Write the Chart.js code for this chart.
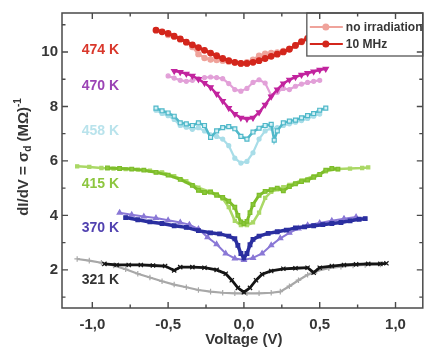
<!DOCTYPE html>
<html>
<head>
<meta charset="utf-8">
<script src="https://cdn.jsdelivr.net/npm/chart.js@4/dist/chart.umd.min.js"></script>
<style>
  html, body { margin: 0; padding: 0; background: #fff; }
</style>
</head>
<body>
<canvas id="chart" width="428" height="352"></canvas>
<script>
// dI/dV (MOhm^-1) against voltage (V)
// "10M" = under 10 MHz irradiation, "off" = no irradiation
const volt474_10M = [-0.58,-0.54,-0.50,-0.46,-0.42,-0.38,-0.34,-0.30,-0.26,-0.22,-0.18,-0.14,-0.10,-0.06,-0.02,0.02,0.06,0.10,0.14,0.18,0.22,0.26,0.30,0.34,0.38,0.42,0.46,0.50];
const sig474_10M  = [10.80,10.74,10.68,10.58,10.48,10.36,10.26,10.16,10.06,9.96,9.86,9.76,9.68,9.62,9.58,9.58,9.62,9.68,9.76,9.84,9.92,10.00,10.10,10.24,10.38,10.50,10.62,10.72];
const volt474_off = [-0.50,-0.46,-0.42,-0.38,-0.34,-0.30,-0.26,-0.22,-0.18,-0.14,-0.10,-0.06,-0.02,0.02,0.06,0.10,0.14,0.18,0.22,0.26,0.30,0.34,0.38];
const sig474_off  = [10.62,10.56,10.46,10.36,10.18,9.92,9.78,9.72,9.70,9.68,9.64,9.60,9.58,9.62,9.72,9.86,9.94,9.96,9.98,10.04,10.12,10.24,10.36];

const volt470_10M = [-0.46,-0.42,-0.38,-0.34,-0.30,-0.26,-0.22,-0.18,-0.14,-0.10,-0.06,-0.02,0.02,0.06,0.10,0.14,0.18,0.22,0.26,0.30,0.34,0.38,0.42,0.46,0.50,0.54];
const sig470_10M  = [9.30,9.26,9.20,9.12,9.00,8.86,8.70,8.46,8.20,7.94,7.72,7.58,7.54,7.58,7.78,8.06,8.36,8.62,8.84,8.98,9.08,9.16,9.22,9.28,9.34,9.38];
const volt470_off = [-0.50,-0.46,-0.42,-0.38,-0.34,-0.30,-0.26,-0.22,-0.18,-0.14,-0.10,-0.06,-0.02,0.02,0.06,0.10,0.14,0.18,0.22,0.26,0.30,0.34,0.38,0.42,0.46,0.50];
const sig470_off  = [9.12,9.04,8.96,8.92,8.96,9.02,9.06,9.08,9.06,9.02,8.84,8.62,8.56,8.66,8.88,8.98,8.86,8.40,8.52,8.66,8.62,8.74,8.82,8.88,8.92,8.96];

const volt458_10M = [-0.58,-0.54,-0.50,-0.46,-0.42,-0.38,-0.34,-0.30,-0.26,-0.22,-0.18,-0.14,-0.10,-0.06,-0.02,0.02,0.06,0.10,0.14,0.18,0.20,0.22,0.26,0.30,0.34,0.38,0.42,0.46,0.50,0.54];
const sig458_10M  = [7.94,7.84,7.76,7.64,7.40,7.36,7.30,7.40,7.30,6.86,7.10,7.22,7.26,7.18,6.90,6.80,7.06,7.20,7.30,7.34,6.76,7.10,7.40,7.46,7.50,7.58,7.66,7.74,7.86,7.94];
const volt458_off = [-0.58,-0.54,-0.50,-0.46,-0.42,-0.38,-0.34,-0.30,-0.26,-0.22,-0.18,-0.14,-0.10,-0.06,-0.02,0.02,0.06,0.10,0.14,0.18,0.22,0.26,0.30,0.34,0.38,0.42,0.46,0.50];
const sig458_off  = [7.86,7.74,7.66,7.52,7.30,7.24,7.16,7.22,7.10,6.96,6.90,6.80,6.56,6.10,5.92,5.98,6.30,6.80,7.10,7.20,7.22,7.30,7.36,7.42,7.48,7.56,7.64,7.72];

const volt415_10M = [-0.90,-0.82,-0.74,-0.66,-0.58,-0.50,-0.42,-0.34,-0.30,-0.26,-0.22,-0.18,-0.14,-0.10,-0.06,-0.04,-0.02,0.00,0.02,0.04,0.06,0.10,0.14,0.18,0.22,0.26,0.30,0.34,0.38,0.42,0.46,0.50,0.54,0.58,0.62];
const sig415_10M  = [5.74,5.72,5.70,5.66,5.58,5.48,5.32,5.10,4.92,4.84,4.86,4.74,4.66,4.52,4.30,4.00,3.76,3.70,3.78,4.10,4.40,4.74,4.88,4.94,5.00,4.90,5.06,5.16,5.24,5.30,5.40,5.50,5.66,5.72,5.70];
const volt415_off = [-1.10,-1.02,-0.94,-0.86,-0.78,-0.70,-0.62,-0.54,-0.46,-0.38,-0.30,-0.22,-0.18,-0.14,-0.10,-0.06,-0.02,0.02,0.06,0.10,0.14,0.18,0.22,0.26,0.30,0.38,0.46,0.54,0.62,0.70,0.78,0.82];
const sig415_off  = [5.80,5.78,5.74,5.72,5.70,5.68,5.64,5.58,5.44,5.26,5.02,4.86,4.78,4.62,4.30,3.80,3.64,3.64,3.74,4.10,4.64,4.86,4.96,5.04,5.12,5.28,5.44,5.62,5.70,5.72,5.74,5.76];

const volt370_10M = [-0.78,-0.70,-0.62,-0.54,-0.46,-0.38,-0.30,-0.22,-0.16,-0.10,-0.06,-0.04,-0.02,0.00,0.02,0.04,0.06,0.10,0.16,0.22,0.28,0.34,0.40,0.46,0.52,0.58,0.64,0.70,0.76,0.80];
const sig370_10M  = [3.92,3.84,3.76,3.70,3.62,3.56,3.44,3.36,3.32,3.24,3.14,2.90,2.60,2.44,2.60,2.92,3.12,3.24,3.34,3.40,3.46,3.54,3.58,3.62,3.66,3.70,3.74,3.80,3.86,3.88];
const volt370_off = [-0.82,-0.74,-0.66,-0.58,-0.50,-0.42,-0.36,-0.30,-0.24,-0.18,-0.12,-0.06,0.00,0.06,0.12,0.18,0.24,0.30,0.36,0.42,0.50,0.58,0.66,0.74];
const sig370_off  = [4.10,4.02,3.96,3.90,3.82,3.74,3.66,3.50,3.20,2.94,2.60,2.42,2.36,2.44,2.60,2.90,3.16,3.36,3.52,3.64,3.72,3.80,3.88,3.94];

const volt321_10M = [-0.92,-0.84,-0.76,-0.68,-0.60,-0.52,-0.46,-0.42,-0.34,-0.26,-0.18,-0.12,-0.08,-0.04,0.00,0.04,0.08,0.12,0.18,0.26,0.34,0.42,0.46,0.50,0.58,0.66,0.74,0.82,0.90,0.94];
const sig321_10M  = [2.22,2.18,2.18,2.18,2.16,2.14,1.98,2.10,2.10,2.08,2.00,1.86,1.62,1.34,1.18,1.34,1.62,1.84,1.96,2.04,2.06,2.08,1.90,2.08,2.14,2.18,2.20,2.22,2.22,2.24];
const volt321_off = [-1.10,-1.02,-0.94,-0.86,-0.78,-0.70,-0.62,-0.54,-0.46,-0.38,-0.30,-0.22,-0.14,-0.06,0.02,0.10,0.18,0.24,0.30,0.36,0.42,0.48,0.56,0.64,0.72,0.80,0.90];
const sig321_off  = [2.40,2.34,2.26,2.16,2.02,1.86,1.72,1.58,1.46,1.36,1.26,1.20,1.16,1.14,1.14,1.14,1.16,1.20,1.40,1.62,1.82,1.96,2.06,2.12,2.16,2.18,2.20];

// axes
const xTickValues = [-1.0, -0.5, 0.0, 0.5, 1.0];
const xTickLabels = ['-1,0', '-0,5', '0,0', '0,5', '1,0'];
const xMinorTicks = [-0.75, -0.25, 0.25, 0.75];
const yTickValues = [2, 4, 6, 8, 10];
const yMinorTicks = [1, 3, 5, 7, 9, 11];

// curve labels
const tempLabels = ['474 K', '470 K', '458 K', '415 K', '370 K', '321 K'];
const tempLabelY = [10.08, 8.76, 7.08, 5.14, 3.53, 1.62];
const tempColors = ['#d9372b', '#9b43b5', '#b9e3ec', '#8dc63f', '#5142b0', '#333333'];

const legendLabels = ['no irradiation', '10 MHz'];

function pts(xs, ys) {
    return xs.map((x, i) => ({x: x, y: ys[i]}));
}

function series(label, xs, ys, line, fill, style, radius, width, rot) {
    return {
        label: label,
        data: pts(xs, ys),
        borderColor: line,
        backgroundColor: fill,
        borderWidth: width,
        pointStyle: style,
        pointRadius: radius,
        pointRotation: rot || 0,
        pointBorderColor: line,
        pointBackgroundColor: fill,
        pointBorderWidth: 1.2,
        tension: 0
    };
}

// 10 MHz sets first so they are drawn on top
const datasets = [
    series('474 K 10 MHz', volt474_10M, sig474_10M, '#d3261c', '#d3261c', 'circle', 2.8, 3),
    series('470 K 10 MHz', volt470_10M, sig470_10M, '#c2249e', '#c2249e', 'triangle', 3, 2.5, 180),
    series('458 K 10 MHz', volt458_10M, sig458_10M, '#4fb8c9', '#d4f0f5', 'rect', 2.8, 2.5),
    series('415 K 10 MHz', volt415_10M, sig415_10M, '#7dbd2a', '#8cc83c', 'rect', 2.6, 3),
    series('370 K 10 MHz', volt370_10M, sig370_10M, '#2b2fa0', '#2b2fa0', 'rect', 2.6, 3.5),
    series('321 K 10 MHz', volt321_10M, sig321_10M, '#151515', '#151515', 'crossRot', 3, 2.8),
    series('474 K off', volt474_off, sig474_off, '#efa39b', '#efa39b', 'circle', 2.6, 2.5),
    series('470 K off', volt470_off, sig470_off, '#e2a0d8', '#e2a0d8', 'circle', 2, 2.2),
    series('458 K off', volt458_off, sig458_off, '#a8dde8', '#a8dde8', 'circle', 2, 2.2),
    series('415 K off', volt415_off, sig415_off, '#aad866', '#aad866', 'rect', 2.2, 2.5),
    series('370 K off', volt370_off, sig370_off, '#8a78d6', '#8a78d6', 'triangle', 2.8, 2),
    series('321 K off', volt321_off, sig321_off, '#a8a8a8', '#a8a8a8', 'cross', 2.8, 2.2)
];

const textColor = '#363636';

// frame, inward ticks, curve labels, legend and axis titles
const decorPlugin = {
    id: 'decor',
    afterDraw(chart) {
        const ctx = chart.ctx;
        const a = chart.chartArea;
        const xs = chart.scales.x, ys = chart.scales.y;
        ctx.save();

        // curve labels
        ctx.font = 'bold 14px "Liberation Sans", Arial, sans-serif';
        ctx.textAlign = 'left';
        ctx.textBaseline = 'middle';
        tempLabels.forEach((t, i) => {
            ctx.fillStyle = tempColors[i];
            ctx.fillText(t, xs.getPixelForValue(-1.07), ys.getPixelForValue(tempLabelY[i]));
        });

        // legend box
        const lx = xs.getPixelForValue(0.415), ly = a.top, lw = a.right - lx, lh = 43;
        ctx.fillStyle = '#fff';
        ctx.fillRect(lx, ly, lw, lh);
        ctx.strokeStyle = '#555';
        ctx.lineWidth = 1.3;
        ctx.strokeRect(lx, ly, lw, lh);
        const legColors = ['#efa39b', '#d3261c'];
        [ly + 14, ly + 31].forEach((yy, i) => {
            ctx.strokeStyle = legColors[i];
            ctx.lineWidth = 2;
            ctx.beginPath();
            ctx.moveTo(lx + 3, yy);
            ctx.lineTo(lx + 36, yy);
            ctx.stroke();
            ctx.fillStyle = legColors[i];
            ctx.beginPath();
            ctx.arc(lx + 19, yy, 3.5, 0, Math.PI * 2);
            ctx.fill();
            ctx.fillStyle = textColor;
            ctx.font = 'bold 12px "Liberation Sans", Arial, sans-serif';
            ctx.textAlign = 'left';
            ctx.textBaseline = 'middle';
            ctx.fillText(legendLabels[i], lx + 39, yy + 1);
        });

        // frame
        ctx.strokeStyle = '#4a4a4a';
        ctx.lineWidth = 1.5;
        ctx.strokeRect(a.left, a.top, a.right - a.left, a.bottom - a.top);

        // ticks pointing inwards on all four sides
        ctx.lineWidth = 1.4;
        ctx.beginPath();
        const xt = (vals, len) => vals.forEach(v => {
            const p = xs.getPixelForValue(v);
            ctx.moveTo(p, a.bottom); ctx.lineTo(p, a.bottom - len);
            ctx.moveTo(p, a.top); ctx.lineTo(p, a.top + len);
        });
        const yt = (vals, len) => vals.forEach(v => {
            const p = ys.getPixelForValue(v);
            ctx.moveTo(a.left, p); ctx.lineTo(a.left + len, p);
            ctx.moveTo(a.right, p); ctx.lineTo(a.right - len, p);
        });
        xt(xTickValues, 6); xt(xMinorTicks, 3.5);
        yt(yTickValues, 6); yt(yMinorTicks, 3.5);
        ctx.stroke();

        // x title
        ctx.fillStyle = textColor;
        ctx.font = 'bold 15px "Liberation Sans", Arial, sans-serif';
        ctx.textAlign = 'center';
        ctx.textBaseline = 'middle';
        ctx.fillText('Voltage (V)', xs.getPixelForValue(0), 340);

        // y title with subscript and superscript
        ctx.translate(24, 157);
        ctx.rotate(-Math.PI / 2);
        const big = 'bold 15px "Liberation Sans", Arial, sans-serif';
        const small = 'bold 10px "Liberation Sans", Arial, sans-serif';
        const parts = [
            ['dI/dV = \u03c3', big, 0],
            ['d', small, 4],
            [' (M\u03a9)', big, 0],
            ['-1', small, -6]
        ];
        let total = 0;
        parts.forEach(p => { ctx.font = p[1]; total += ctx.measureText(p[0]).width; });
        let cx = -total / 2;
        ctx.textAlign = 'left';
        parts.forEach(p => {
            ctx.font = p[1];
            ctx.fillText(p[0], cx, p[2]);
            cx += ctx.measureText(p[0]).width;
        });
        ctx.restore();
    }
};

new Chart(document.getElementById('chart').getContext('2d'), {
    type: 'line',
    data: { datasets: datasets },
    options: {
        responsive: false,
        animation: false,
        devicePixelRatio: 1,
        layout: { padding: { top: 12, right: 2, left: 0, bottom: 0 } },
        plugins: {
            legend: { display: false },
            tooltip: { enabled: false }
        },
        scales: {
            x: {
                type: 'linear',
                min: -1.2,
                max: 1.18,
                afterFit: s => { s.height = 44; },
                afterBuildTicks: s => { s.ticks = xTickValues.map(v => ({value: v})); },
                grid: { display: false, drawTicks: false },
                border: { display: false },
                ticks: {
                    padding: 8,
                    color: textColor,
                    font: { family: '"Liberation Sans", Arial, sans-serif', size: 15, weight: 'bold' },
                    callback: v => xTickLabels[xTickValues.indexOf(v)]
                }
            },
            y: {
                type: 'linear',
                min: 0.6,
                max: 11.43,
                afterFit: s => { s.width = 62; },
                afterBuildTicks: s => { s.ticks = yTickValues.map(v => ({value: v})); },
                grid: { display: false, drawTicks: false },
                border: { display: false },
                ticks: {
                    padding: 4,
                    color: textColor,
                    font: { family: '"Liberation Sans", Arial, sans-serif', size: 15, weight: 'bold' }
                }
            }
        }
    },
    plugins: [decorPlugin]
});
</script>
</body>
</html>
